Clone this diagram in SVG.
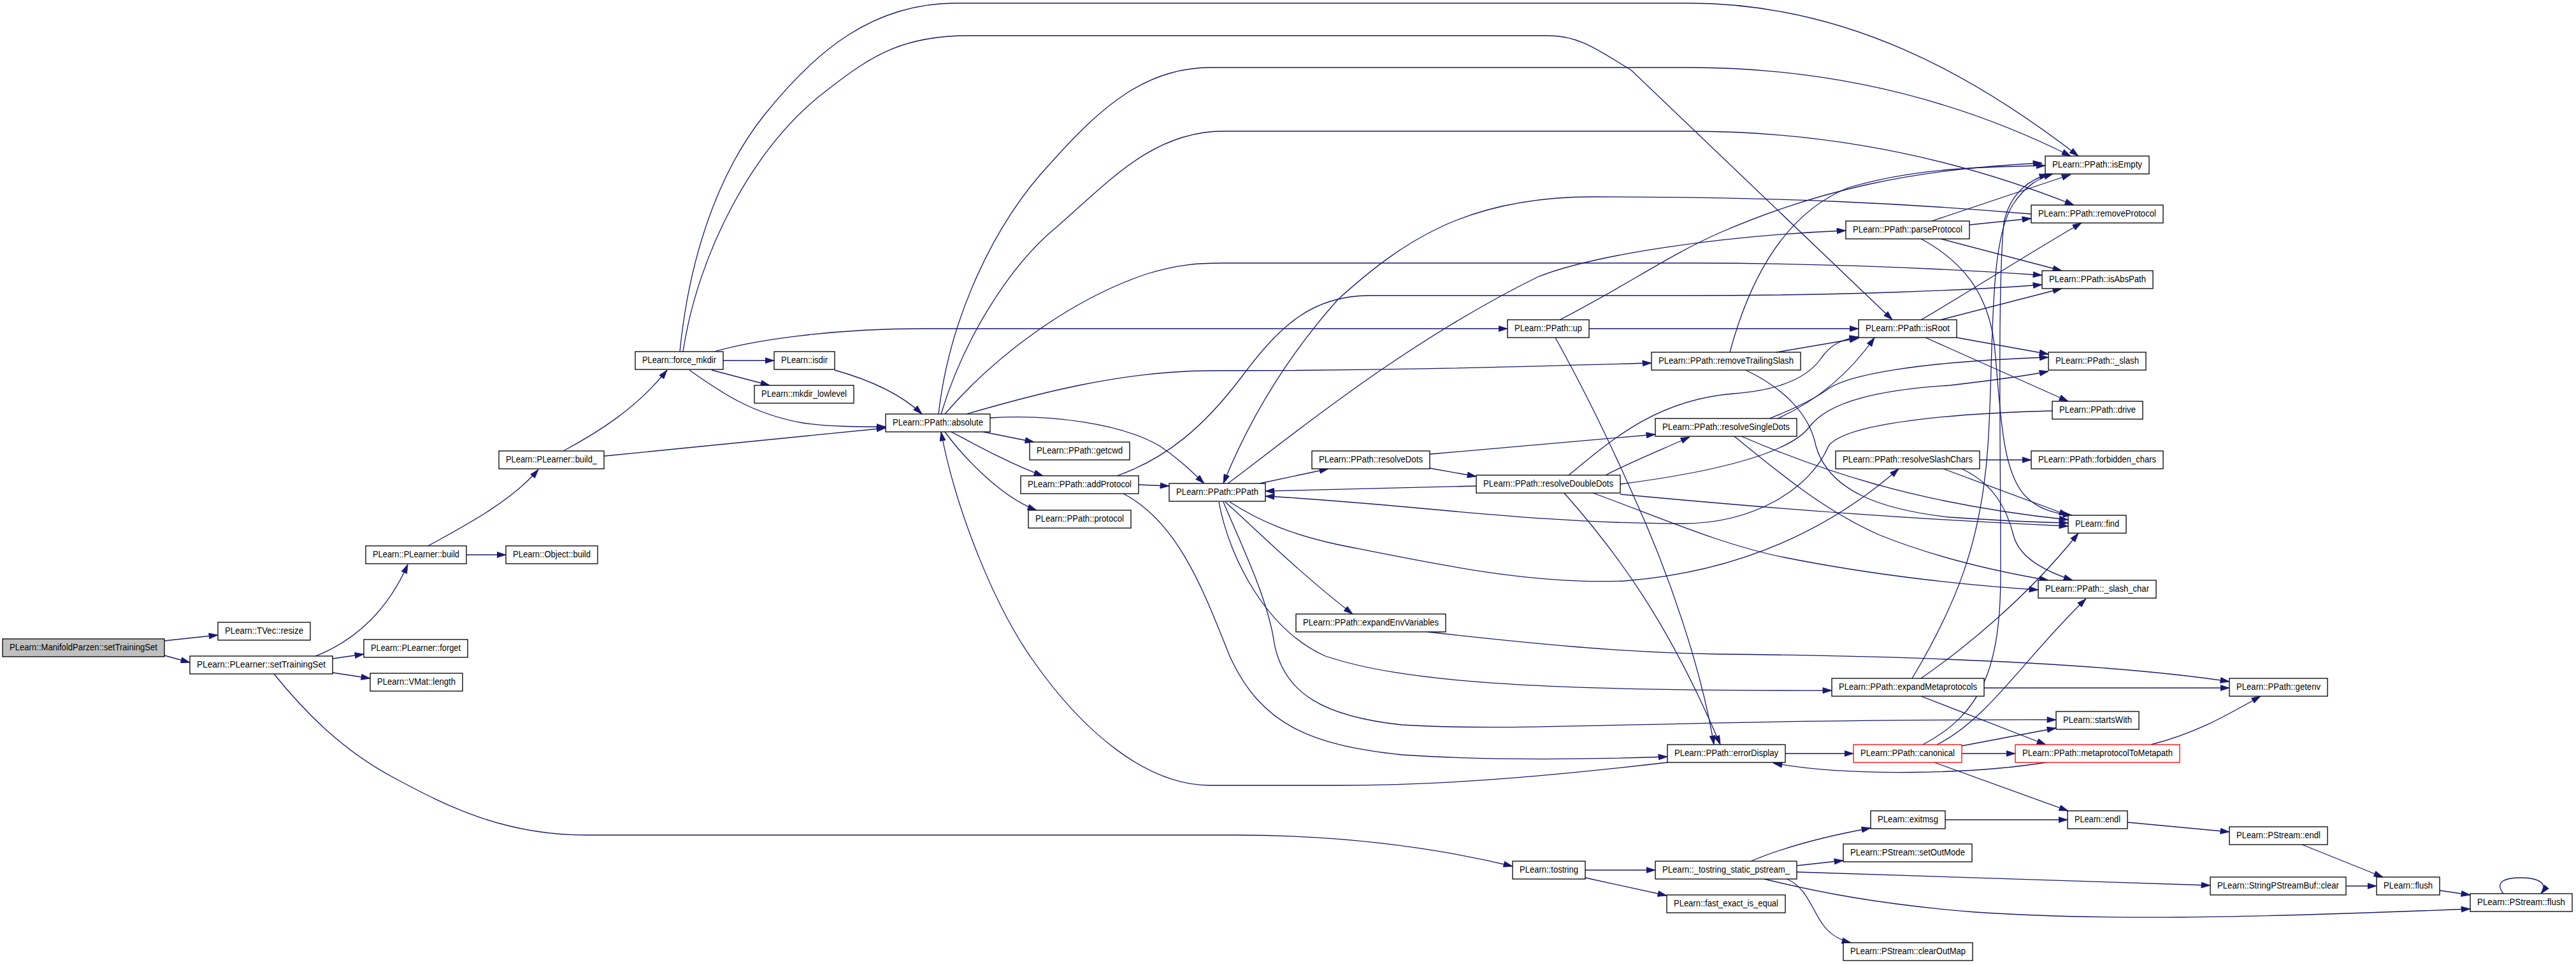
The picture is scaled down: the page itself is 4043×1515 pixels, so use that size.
<svg xmlns="http://www.w3.org/2000/svg" width="4043" height="1515" viewBox="0 0 4043 1515">
<style>
.n rect{fill:#fff;stroke:#000;stroke-width:1.3}
.n.g rect{fill:#bfbfbf}
.n.r rect{stroke:#ff0000}
.n text{font-family:"Liberation Sans",Arial,Helvetica,sans-serif;font-size:14px;text-anchor:middle;fill:#000}
#edges path{fill:none;stroke:#191970;stroke-width:1.3;marker-end:url(#a)}
</style>
<defs>
<marker id="a" markerUnits="userSpaceOnUse" markerWidth="15" markerHeight="10" viewBox="0 0 14 10" refX="14" refY="5" orient="auto">
<path d="M0,0.5 L14,5 L0,9.5 z" fill="#191970" stroke="#191970" stroke-width="0.8"/>
</marker>
</defs>
<rect width="4043" height="1515" fill="#fff"/>
<g id="edges">
<path d="M258,1006 L342,997"/>
<path d="M258,1029 L298,1040"/>
<path d="M495,1030 C560,1005 610,955 640,886"/>
<path d="M522,1034 L571,1027"/>
<path d="M522,1056 L581,1065"/>
<path d="M430,1058 C480,1120 540,1180 620,1222 C700,1265 790,1311 920,1311 L1936,1311 C2100,1311 2250,1330 2374,1360"/>
<path d="M672,857 C720,830 800,790 845,737"/>
<path d="M732,871 L794,871"/>
<path d="M884,708 C940,678 1000,640 1047,581"/>
<path d="M948,716 L1390,672"/>
<path d="M1135,566 L1215,566"/>
<path d="M1117,581 L1208,605"/>
<path d="M1082,581 C1130,615 1180,650 1260,664 C1300,670 1350,670 1390,670"/>
<path d="M1121,552 C1180,535 1300,516 1450,516 L2366,516"/>
<path d="M1067,552 C1080,420 1120,280 1200,180 C1280,80 1370,5 1500,5 L2650,5 C2900,5 3100,120 3262,245"/>
<path d="M1072,552 C1095,400 1180,230 1300,140 C1370,85 1420,56 1520,56 L2430,56 C2480,56 2510,80 2560,110 L2970,502"/>
<path d="M1310,581 C1360,595 1410,615 1447,650"/>
<path d="M1543,678 L1623,694"/>
<path d="M1493,678 C1540,703 1590,730 1637,747"/>
<path d="M1483,678 C1510,715 1570,780 1627,801"/>
<path d="M1554,656 C1650,650 1760,665 1820,700 C1850,720 1870,740 1890,759"/>
<path d="M1473,650 C1490,500 1560,350 1650,255 C1730,165 1800,106 1900,106 L2650,106 C2900,106 3100,170 3250,245"/>
<path d="M1477,650 C1510,540 1580,420 1660,355 C1740,285 1810,206 1920,206 L2650,206 C2900,206 3100,260 3255,322"/>
<path d="M1483,650 C1560,560 1680,470 1800,430 C1850,415 1880,413 1920,413 L2650,413 C2900,413 3100,425 3205,432"/>
<path d="M1517,650 C1620,620 1760,582 1900,582 C2200,582 2400,575 2592,570"/>
<path d="M1753,747 C1830,720 1890,670 1950,590 C2010,510 2060,464 2150,464 L2650,464 C2900,464 3100,455 3205,447"/>
<path d="M1787,761 L1835,763"/>
<path d="M1763,775 C1850,820 1890,930 1930,1030 C1980,1140 2060,1170 2200,1185 C2350,1195 2500,1192 2617,1188"/>
<path d="M2617,1197 C2400,1222 2250,1233 2100,1233 L1900,1233 C1800,1233 1700,1150 1620,1035 C1560,950 1500,800 1477,678"/>
<path d="M1977,759 L2085,736"/>
<path d="M1927,759 C2020,690 2200,540 2413,435 C2500,400 2700,370 2897,362"/>
<path d="M2448,502 C2550,450 2620,400 2700,365 C2850,300 3000,265 3205,256"/>
<path d="M2494,516 L2917,516"/>
<path d="M2441,530 C2480,600 2520,680 2560,770 C2620,900 2670,1050 2690,1169"/>
<path d="M2244,735 L2317,748"/>
<path d="M2244,713 L2598,682"/>
<path d="M2317,763 L1986,771"/>
<path d="M3221,645 C3100,648 2900,660 2870,700 C2840,770 2750,822 2640,822 C2400,822 2200,790 1986,779"/>
<path d="M2462,746 C2530,690 2600,628 2720,618 C2800,612 2840,590 2860,560 C2875,540 2890,533 2917,529"/>
<path d="M2777,657 C2820,640 2850,625 2870,610 C2900,590 3000,568 3215,561"/>
<path d="M2790,657 C2850,630 2900,590 2942,530"/>
<path d="M2520,746 C2560,725 2610,705 2652,686"/>
<path d="M2788,553 L2917,531"/>
<path d="M2715,553 C2740,460 2790,340 2900,295 C3000,265 3100,262 3210,260"/>
<path d="M2740,581 C2800,610 2840,650 2850,700 C2870,770 2950,800 3060,812 C3150,818 3200,820 3246,821"/>
<path d="M2733,685 C2850,735 3000,790 3246,816"/>
<path d="M2722,685 C2790,740 2860,800 2950,840 C3050,880 3150,900 3215,911"/>
<path d="M2543,776 C2800,800 3000,815 3246,826"/>
<path d="M2500,774 C2600,810 2700,855 2800,875 C2950,905 3100,920 3199,926"/>
<path d="M2543,760 C2700,740 2810,710 2840,670 C2870,630 2950,612 3060,605 C3120,598 3180,590 3215,583"/>
<path d="M2455,774 C2540,870 2620,980 2700,1169"/>
<path d="M3046,502 L3236,453"/>
<path d="M3015,502 C3080,465 3180,400 3267,350"/>
<path d="M3071,530 L3215,556"/>
<path d="M3022,530 L3246,630"/>
<path d="M3032,347 L3250,274"/>
<path d="M3091,353 L3188,343"/>
<path d="M3046,375 L3236,425"/>
<path d="M3015,375 C3080,410 3120,460 3130,540 C3140,640 3140,740 3180,780 C3200,800 3225,806 3252,809"/>
<path d="M3188,336 C3000,320 2800,309 2500,309 C2300,309 2200,380 2100,470 C2020,560 1960,660 1920,759"/>
<path d="M3107,722 L3188,722"/>
<path d="M3050,736 L3246,809"/>
<path d="M3079,736 C3130,760 3150,800 3160,840 C3170,880 3220,900 3253,911"/>
<path d="M1930,788 C1980,820 2030,840 2100,855 C2250,885 2400,918 2550,912 C2700,900 2850,850 2980,736"/>
<path d="M1923,788 C1970,830 2040,900 2123,964"/>
<path d="M1913,788 C1930,880 1990,990 2080,1030 C2200,1070 2400,1085 2875,1084"/>
<path d="M1920,788 C1950,860 1990,940 2000,1010 C2015,1090 2080,1125 2200,1138 C2400,1150 2600,1129 3227,1130"/>
<path d="M2240,992 C2400,1010 2550,1025 2700,1027 C3000,1030 3300,1040 3499,1070"/>
<path d="M3114,1080 L3499,1080"/>
<path d="M3001,1065 C3070,950 3110,850 3120,700 C3130,550 3120,380 3160,320 C3180,290 3200,280 3222,273"/>
<path d="M3015,1065 C3080,1020 3180,940 3262,837"/>
<path d="M3015,1093 L3211,1169"/>
<path d="M2802,1183 L2909,1183"/>
<path d="M3211,1197 C3100,1215 2900,1220 2783,1198"/>
<path d="M3079,1183 L3163,1183"/>
<path d="M3079,1171 L3227,1143"/>
<path d="M3018,1169 C3110,1120 3140,1050 3140,900 C3140,700 3135,450 3145,350 C3155,300 3190,280 3215,274"/>
<path d="M3040,1169 C3120,1130 3180,1030 3274,940"/>
<path d="M3036,1197 L3246,1273"/>
<path d="M3376,1169 C3450,1150 3500,1120 3548,1093"/>
<path d="M2488,1366 L2598,1366"/>
<path d="M2488,1378 L2616,1406"/>
<path d="M2748,1352 C2800,1330 2870,1312 2936,1300"/>
<path d="M2820,1359 L2893,1351"/>
<path d="M2820,1369 L3469,1390"/>
<path d="M2769,1380 C2850,1400 2950,1420 3100,1432 C3300,1445 3500,1442 3877,1427"/>
<path d="M2804,1380 C2835,1392 2845,1430 2860,1450 C2872,1468 2888,1476 2905,1480"/>
<path d="M3053,1287 L3245,1287"/>
<path d="M3339,1291 L3499,1306"/>
<path d="M3613,1326 L3740,1377"/>
<path d="M3682,1391 L3730,1391"/>
<path d="M3829,1398 L3877,1405"/>
<path d="M3929,1403 C3915,1385 3930,1378 3957,1378 C3985,1378 4000,1388 3988,1403"/>
</g>
<g id="n1" class="n g"><rect x="4" y="1003" width="254" height="28"/><text x="131" y="1021" textLength="232" lengthAdjust="spacingAndGlyphs">PLearn::ManifoldParzen::setTrainingSet</text></g>
<g id="n2" class="n"><rect x="342" y="977" width="145" height="28"/><text x="414.5" y="995" textLength="123" lengthAdjust="spacingAndGlyphs">PLearn::TVec::resize</text></g>
<g id="n3" class="n"><rect x="298" y="1030" width="224" height="28"/><text x="410" y="1048" textLength="202" lengthAdjust="spacingAndGlyphs">PLearn::PLearner::setTrainingSet</text></g>
<g id="n4" class="n"><rect x="574" y="857" width="158" height="28"/><text x="653" y="875" textLength="136" lengthAdjust="spacingAndGlyphs">PLearn::PLearner::build</text></g>
<g id="n5" class="n"><rect x="571" y="1004" width="163" height="28"/><text x="652.5" y="1022" textLength="141" lengthAdjust="spacingAndGlyphs">PLearn::PLearner::forget</text></g>
<g id="n6" class="n"><rect x="581" y="1057" width="145" height="28"/><text x="653.5" y="1075" textLength="123" lengthAdjust="spacingAndGlyphs">PLearn::VMat::length</text></g>
<g id="n7" class="n"><rect x="783" y="708" width="165" height="28"/><text x="865.5" y="726" textLength="143" lengthAdjust="spacingAndGlyphs">PLearn::PLearner::build_</text></g>
<g id="n8" class="n"><rect x="794" y="857" width="144" height="28"/><text x="866" y="875" textLength="122" lengthAdjust="spacingAndGlyphs">PLearn::Object::build</text></g>
<g id="n9" class="n"><rect x="997" y="552" width="138" height="28"/><text x="1066" y="570" textLength="116" lengthAdjust="spacingAndGlyphs">PLearn::force_mkdir</text></g>
<g id="n10" class="n"><rect x="1215" y="552" width="95" height="28"/><text x="1262.5" y="570" textLength="73" lengthAdjust="spacingAndGlyphs">PLearn::isdir</text></g>
<g id="n11" class="n"><rect x="1184" y="605" width="156" height="28"/><text x="1262" y="623" textLength="134" lengthAdjust="spacingAndGlyphs">PLearn::mkdir_lowlevel</text></g>
<g id="n12" class="n"><rect x="1390" y="650" width="164" height="28"/><text x="1472" y="668" textLength="142" lengthAdjust="spacingAndGlyphs">PLearn::PPath::absolute</text></g>
<g id="n13" class="n"><rect x="1616" y="694" width="157" height="28"/><text x="1694.5" y="712" textLength="135" lengthAdjust="spacingAndGlyphs">PLearn::PPath::getcwd</text></g>
<g id="n14" class="n"><rect x="1602" y="747" width="185" height="28"/><text x="1694.5" y="765" textLength="163" lengthAdjust="spacingAndGlyphs">PLearn::PPath::addProtocol</text></g>
<g id="n15" class="n"><rect x="1614" y="801" width="161" height="28"/><text x="1694.5" y="819" textLength="139" lengthAdjust="spacingAndGlyphs">PLearn::PPath::protocol</text></g>
<g id="n16" class="n"><rect x="1835" y="759" width="151" height="28"/><text x="1910.5" y="777" textLength="129" lengthAdjust="spacingAndGlyphs">PLearn::PPath::PPath</text></g>
<g id="n17" class="n"><rect x="2059" y="708" width="185" height="28"/><text x="2151.5" y="726" textLength="163" lengthAdjust="spacingAndGlyphs">PLearn::PPath::resolveDots</text></g>
<g id="n18" class="n"><rect x="2034" y="964" width="235" height="28"/><text x="2151.5" y="982" textLength="213" lengthAdjust="spacingAndGlyphs">PLearn::PPath::expandEnvVariables</text></g>
<g id="n19" class="n"><rect x="2366" y="502" width="128" height="28"/><text x="2430" y="520" textLength="106" lengthAdjust="spacingAndGlyphs">PLearn::PPath::up</text></g>
<g id="n20" class="n"><rect x="2317" y="746" width="226" height="28"/><text x="2430" y="764" textLength="204" lengthAdjust="spacingAndGlyphs">PLearn::PPath::resolveDoubleDots</text></g>
<g id="n21" class="n"><rect x="2374" y="1352" width="114" height="28"/><text x="2431" y="1370" textLength="92" lengthAdjust="spacingAndGlyphs">PLearn::tostring</text></g>
<g id="n22" class="n"><rect x="2592" y="553" width="234" height="28"/><text x="2709" y="571" textLength="212" lengthAdjust="spacingAndGlyphs">PLearn::PPath::removeTrailingSlash</text></g>
<g id="n23" class="n"><rect x="2598" y="657" width="222" height="28"/><text x="2709" y="675" textLength="200" lengthAdjust="spacingAndGlyphs">PLearn::PPath::resolveSingleDots</text></g>
<g id="n24" class="n"><rect x="2617" y="1169" width="185" height="28"/><text x="2709.5" y="1187" textLength="163" lengthAdjust="spacingAndGlyphs">PLearn::PPath::errorDisplay</text></g>
<g id="n25" class="n"><rect x="2598" y="1352" width="222" height="28"/><text x="2709" y="1370" textLength="200" lengthAdjust="spacingAndGlyphs">PLearn::_tostring_static_pstream_</text></g>
<g id="n26" class="n"><rect x="2616" y="1405" width="186" height="28"/><text x="2709" y="1423" textLength="164" lengthAdjust="spacingAndGlyphs">PLearn::fast_exact_is_equal</text></g>
<g id="n27" class="n"><rect x="2897" y="347" width="194" height="28"/><text x="2994" y="365" textLength="172" lengthAdjust="spacingAndGlyphs">PLearn::PPath::parseProtocol</text></g>
<g id="n28" class="n"><rect x="2917" y="502" width="154" height="28"/><text x="2994" y="520" textLength="132" lengthAdjust="spacingAndGlyphs">PLearn::PPath::isRoot</text></g>
<g id="n29" class="n"><rect x="2881" y="708" width="226" height="28"/><text x="2994" y="726" textLength="204" lengthAdjust="spacingAndGlyphs">PLearn::PPath::resolveSlashChars</text></g>
<g id="n30" class="n"><rect x="2875" y="1065" width="239" height="28"/><text x="2994.5" y="1083" textLength="217" lengthAdjust="spacingAndGlyphs">PLearn::PPath::expandMetaprotocols</text></g>
<g id="n31" class="n r"><rect x="2909" y="1169" width="170" height="28"/><text x="2994" y="1187" textLength="148" lengthAdjust="spacingAndGlyphs">PLearn::PPath::canonical</text></g>
<g id="n32" class="n"><rect x="2936" y="1273" width="117" height="28"/><text x="2994.5" y="1291" textLength="95" lengthAdjust="spacingAndGlyphs">PLearn::exitmsg</text></g>
<g id="n33" class="n"><rect x="2893" y="1325" width="202" height="28"/><text x="2994" y="1343" textLength="180" lengthAdjust="spacingAndGlyphs">PLearn::PStream::setOutMode</text></g>
<g id="n34" class="n"><rect x="2893" y="1480" width="203" height="28"/><text x="2994.5" y="1498" textLength="181" lengthAdjust="spacingAndGlyphs">PLearn::PStream::clearOutMap</text></g>
<g id="n35" class="n"><rect x="3210" y="245" width="163" height="28"/><text x="3291.5" y="263" textLength="141" lengthAdjust="spacingAndGlyphs">PLearn::PPath::isEmpty</text></g>
<g id="n36" class="n"><rect x="3188" y="322" width="207" height="28"/><text x="3291.5" y="340" textLength="185" lengthAdjust="spacingAndGlyphs">PLearn::PPath::removeProtocol</text></g>
<g id="n37" class="n"><rect x="3205" y="425" width="174" height="28"/><text x="3292" y="443" textLength="152" lengthAdjust="spacingAndGlyphs">PLearn::PPath::isAbsPath</text></g>
<g id="n38" class="n"><rect x="3215" y="553" width="153" height="28"/><text x="3291.5" y="571" textLength="131" lengthAdjust="spacingAndGlyphs">PLearn::PPath::_slash</text></g>
<g id="n39" class="n"><rect x="3221" y="630" width="142" height="28"/><text x="3292" y="648" textLength="120" lengthAdjust="spacingAndGlyphs">PLearn::PPath::drive</text></g>
<g id="n40" class="n"><rect x="3188" y="708" width="207" height="28"/><text x="3291.5" y="726" textLength="185" lengthAdjust="spacingAndGlyphs">PLearn::PPath::forbidden_chars</text></g>
<g id="n41" class="n"><rect x="3246" y="809" width="91" height="28"/><text x="3291.5" y="827" textLength="69" lengthAdjust="spacingAndGlyphs">PLearn::find</text></g>
<g id="n42" class="n"><rect x="3199" y="911" width="185" height="28"/><text x="3291.5" y="929" textLength="163" lengthAdjust="spacingAndGlyphs">PLearn::PPath::_slash_char</text></g>
<g id="n43" class="n"><rect x="3227" y="1117" width="130" height="28"/><text x="3292" y="1135" textLength="108" lengthAdjust="spacingAndGlyphs">PLearn::startsWith</text></g>
<g id="n44" class="n r"><rect x="3163" y="1169" width="258" height="28"/><text x="3292" y="1187" textLength="236" lengthAdjust="spacingAndGlyphs">PLearn::PPath::metaprotocolToMetapath</text></g>
<g id="n45" class="n"><rect x="3245" y="1273" width="94" height="28"/><text x="3292" y="1291" textLength="72" lengthAdjust="spacingAndGlyphs">PLearn::endl</text></g>
<g id="n46" class="n"><rect x="3499" y="1065" width="154" height="28"/><text x="3576" y="1083" textLength="132" lengthAdjust="spacingAndGlyphs">PLearn::PPath::getenv</text></g>
<g id="n47" class="n"><rect x="3499" y="1298" width="154" height="28"/><text x="3576" y="1316" textLength="132" lengthAdjust="spacingAndGlyphs">PLearn::PStream::endl</text></g>
<g id="n48" class="n"><rect x="3469" y="1377" width="213" height="28"/><text x="3575.5" y="1395" textLength="191" lengthAdjust="spacingAndGlyphs">PLearn::StringPStreamBuf::clear</text></g>
<g id="n49" class="n"><rect x="3730" y="1377" width="99" height="28"/><text x="3779.5" y="1395" textLength="77" lengthAdjust="spacingAndGlyphs">PLearn::flush</text></g>
<g id="n50" class="n"><rect x="3877" y="1403" width="160" height="28"/><text x="3957" y="1421" textLength="138" lengthAdjust="spacingAndGlyphs">PLearn::PStream::flush</text></g>
</svg>
